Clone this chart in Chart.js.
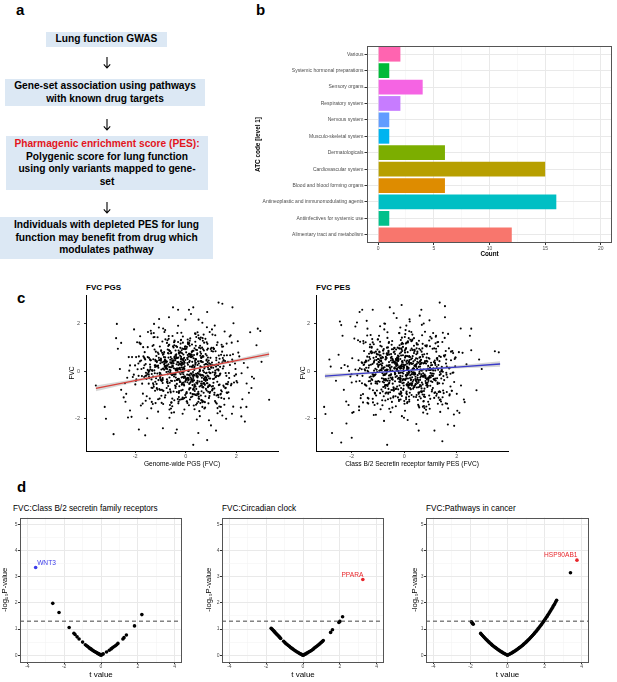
<!DOCTYPE html>
<html>
<head>
<meta charset="utf-8">
<script src="https://cdn.jsdelivr.net/npm/chart.js@4.4.1/dist/chart.umd.min.js"></script>
<style>
  body { margin: 0; background: #fff; width: 617px; height: 682px; position: relative; overflow: hidden;
         font-family: "Liberation Sans", Arial, Helvetica, sans-serif; }
  canvas { position: absolute; }
  .box { position: absolute; background: #dce8f4; font-weight: bold; font-size: 10.2px; line-height: 12.5px;
         text-align: center; display: flex; align-items: center; justify-content: center; color: #000; }
  .arrow { position: absolute; }
  .letter { position: absolute; font-weight: bold; font-size: 15px; line-height: 15px; }
  .ptitle { position: absolute; font-size: 8.2px; line-height: 10px; white-space: nowrap; }
</style>
</head>
<body>

<!-- panel a -->
<div class="letter" style="left:16px;top:2px">a</div>
<div class="box" style="left:46px;top:32px;width:121px;height:15px">Lung function GWAS</div>
<svg class="arrow" width="10" height="12" style="left:102px;top:57px"><path d="M5 0 V11 M1.8 7.3 L5 11 L8.2 7.3" stroke="#000" stroke-width="1.1" fill="none"/></svg>
<div class="box" style="left:5px;top:79px;width:200px;height:27px">Gene-set association using pathways<br>with known drug targets</div>
<svg class="arrow" width="10" height="12" style="left:102px;top:119px"><path d="M5 0 V11 M1.8 7.3 L5 11 L8.2 7.3" stroke="#000" stroke-width="1.1" fill="none"/></svg>
<div class="box" style="left:6px;top:136px;width:202px;height:54px"><span><span style="color:#e3161d">Pharmagenic enrichment score (PES):</span><br>Polygenic score for lung function<br>using only variants mapped to gene-<br>set</span></div>
<svg class="arrow" width="10" height="12" style="left:102px;top:202px"><path d="M5 0 V11 M1.8 7.3 L5 11 L8.2 7.3" stroke="#000" stroke-width="1.1" fill="none"/></svg>
<div class="box" style="left:0px;top:217px;width:213px;height:42px">Individuals with depleted PES for lung<br>function may benefit from drug which<br>modulates pathway</div>

<!-- panel b -->
<div class="letter" style="left:256px;top:2px">b</div>
<canvas id="atc" width="377" height="225" style="left:240px;top:40px"></canvas>

<!-- panel c -->
<div class="letter" style="left:17px;top:290px">c</div>
<div class="ptitle" style="left:86px;top:283px;font-weight:bold;font-size:8px">FVC PGS</div>
<div class="ptitle" style="left:316px;top:283px;font-weight:bold;font-size:8px">FVC PES</div>
<canvas id="pgs" width="242" height="190" style="left:40px;top:282px"></canvas>
<canvas id="pes" width="233" height="190" style="left:282px;top:282px"></canvas>

<!-- panel d -->
<div class="letter" style="left:17px;top:479px">d</div>
<div class="ptitle" style="left:13px;top:504px">FVC:Class B/2 secretin family receptors</div>
<div class="ptitle" style="left:222px;top:504px">FVC:Circadian clock</div>
<div class="ptitle" style="left:426px;top:504px">FVC:Pathways in cancer</div>
<canvas id="volc1" width="190" height="182" style="left:0px;top:500px"></canvas>
<canvas id="volc2" width="190" height="182" style="left:200px;top:500px"></canvas>
<canvas id="volc3" width="200" height="182" style="left:404px;top:500px"></canvas>

<script>
// ---------- panel b: ATC codes ----------
const atcLabels = ["Various", "Systemic hormonal preparations", "Sensory organs", "Respiratory system",
  "Nervous system", "Musculo-skeletal system", "Dermatologicals", "Cardiovascular system",
  "Blood and blood forming organs", "Antineoplastic and immunomodulating agents",
  "Antiinfectives for systemic use", "Alimentary tract and metabolism"];
const atcCounts = [2, 1, 4, 2, 1, 1, 6, 15, 6, 16, 1, 12];
const atcColours = ["#FF64B0", "#00BA38", "#F564E3", "#C77CFF", "#619CFF", "#00B4F0",
  "#7CAE00", "#B79F00", "#DE8C00", "#00BFC4", "#00C08B", "#F8766D"];

// ---------- panel c: FVC vs genome-wide PGS ----------
const pgsX = [
  -0.52,0.31,1.12,-1.45,0.08,-0.27,0.74,-0.91,1.63,-0.05,0.47,-1.18,0.22,-0.66,0.95,-0.39,1.31,-2.04,0.59,-0.14,
  0.36,-0.83,1.78,-0.21,0.65,-1.34,0.12,-0.58,0.88,-1.02,0.27,-0.33,1.45,-0.71,0.03,-1.66,0.51,0.98,-0.44,2.21,
  -0.09,0.69,-1.21,0.41,-0.62,1.07,-0.17,0.83,-1.87,0.19,-0.48,1.22,-0.79,0.55,-0.01,1.58,-1.09,0.33,-0.25,0.77,
  -1.52,0.14,0.92,-0.36,1.39,-0.68,0.06,-1.27,0.63,-0.12,2.04,-0.87,0.44,-0.55,1.16,-0.19,0.29,-1.41,0.81,-0.03,
  0.57,-0.95,1.28,-0.31,0.18,-1.73,0.72,-0.46,1.01,-0.07,0.39,-1.12,1.85,-0.6,0.24,-0.29,0.86,-2.31,0.11,-0.75,
  1.49,-0.15,0.52,-1.06,0.35,-0.41,1.69,-0.85,0.09,-0.23,0.79,-1.58,0.61,-0.1,1.09,-0.53,0.26,-1.95,0.67,0.02,
  -0.37,1.19,-0.73,0.45,-1.29,0.16,-0.02,0.91,-0.64,1.52,-0.2,0.38,-1.01,0.71,-0.43,2.45,-0.12,0.58,-1.47,0.21,
  0.84,-0.57,0.13,-1.16,1.03,-0.34,0.49,-0.81,1.37,-0.06,0.3,-1.38,0.76,-0.26,0.05,-0.97,1.93,-0.49,0.42,-1.79,
  -0.16,0.97,-0.67,0.23,-1.24,1.26,-0.4,0.64,-0.08,1.71,-1.03,0.17,-0.56,0.89,-0.3,0.48,-2.12,1.13,-0.22,0.07,
  0.54,-1.19,0.32,-0.45,1.57,-0.78,0.1,-0.13,0.94,-1.62,0.66,-0.35,1.24,-0.89,0.2,-0.04,0.73,-1.3,1.04,-0.61,
  -0.28,0.43,-0.98,1.41,-0.11,0.6,-1.43,0.28,-0.7,1.88,-0.24,0.8,-0.5,0.15,-1.14,1.0,-0.38,2.62,-0.65,0.37,
  1.1,-0.47,0.04,-1.85,0.7,-0.18,0.5,-0.93,1.34,-0.32,0.25,-1.09,0.87,-0.72,1.62,-0.09,0.4,-0.59,0.13,-1.55,
  -0.82,0.62,-0.26,1.18,-1.36,0.34,-0.04,0.82,-1.68,0.56,-0.42,1.47,-0.14,0.28,-0.96,0.99,-0.53,0.18,-2.55,1.21,
  0.47,-0.3,1.66,-0.63,0.07,-1.23,0.93,-0.19,0.36,-0.84,1.29,-0.07,0.74,-1.5,0.22,-0.38,1.08,-0.76,0.01,2.08,
  -0.44,0.85,-1.11,0.3,-0.16,1.36,-0.89,0.53,-0.01,0.96,-1.32,0.41,-0.62,1.75,-0.27,0.12,-1.04,0.68,-0.35,0.9,
  0.19,-1.64,0.78,-0.52,1.14,-0.08,0.46,-1.2,0.65,-0.28,2.3,-0.69,0.24,-0.12,1.02,-1.46,0.38,-0.55,1.5,-0.02,
  -1.0,0.27,1.23,-0.4,0.58,-1.77,0.09,0.72,-0.66,1.43,-0.23,0.35,-0.92,0.83,-0.06,1.3,-1.26,0.5,-0.46,0.14,
  0.66,-0.21,0.98,-1.39,0.32,-0.74,1.81,-0.1,0.44,-1.07,0.6,-0.33,0.04,-2.2,0.88,-0.57,1.17,-0.16,0.26,-0.8,
  0.12,-0.44,0.63,-0.18,0.37,-0.71,0.05,0.84,-0.29,0.51,-0.96,0.22,-0.07,0.68,-0.53,0.31,-0.14,1.02,-0.39,0.17,
  -0.61,0.43,-0.02,0.79,-0.34,0.14,-0.86,0.57,0.26,-0.48,0.93,-0.2,0.35,-0.75,0.08,1.15,-0.27,0.49,-0.58,0.02,
  0.66,-0.13,0.29,-0.92,0.47,-0.36,1.23,-0.05,0.19,-0.67,0.58,-0.24,0.76,-1.05,0.11,-0.42,0.88,-0.16,0.4,-0.8,
  -0.23,0.71,-0.55,0.06,1.08,-0.31,0.34,-1.14,0.52,-0.09,0.27,-0.63,0.98,-0.45,0.16,-0.19,0.61,-0.88,0.03,1.31,
  0.44,-0.98,0.21,-0.37,0.73,-0.12,0.55,-0.69,0.09,1.36,-0.26,0.41,-0.5,0.85,-0.02,-1.22,0.32,-0.59,0.69,-0.15,
  -0.4,0.18,0.9,-0.64,0.25,-1.31,0.62,-0.08,0.46,-0.29,1.12,-0.78,0.13,-0.17,0.81,-0.46,0.38,-0.94,0.57,0.0,
  0.83,-0.22,0.36,-0.57,0.04,0.95,-0.85,0.28,-0.41,0.67,-0.11,0.5,-1.4,0.2,-0.33,1.27,-0.6,0.15,-0.07,0.74,
  -0.74,0.39,-0.16,0.59,-1.01,0.23,-0.44,0.8,0.07,-0.58,1.44,-0.24,0.45,-0.82,0.3,-0.03,0.64,-1.19,0.18,-0.35,
  0.28,-0.51,1.05,-0.1,0.48,-0.72,0.14,-0.28,0.92,-0.9,0.33,0.01,-0.47,0.7,-0.2,1.18,-0.66,0.42,-1.08,0.09,
  -0.06,0.6,-0.83,0.35,-0.14,0.78,-0.52,1.5,-0.32,0.1,-0.7,0.53,-0.04,0.87,-1.27,0.24,-0.43,0.66,-0.18,0.97,
  0.5,-0.3,0.16,-1.16,0.72,-0.06,0.4,-0.62,1.21,-0.38,0.06,-0.89,0.58,-0.13,0.31,-0.54,1.0,-0.25,0.45,-1.5,
  -0.52,0.94,-0.21,0.19,-0.79,0.63,-0.36,0.11,0.83,-1.03,0.38,-0.15,0.69,-0.46,1.34,-0.09,0.27,-0.68,0.55,-0.27,
  0.07,-0.65,0.47,-0.04,1.13,-0.44,0.24,-0.97,0.6,-0.18,0.86,-0.35,0.15,-1.35,0.42,-0.12,0.75,-0.57,0.21,-0.82,
  1.4,-0.39,0.56,-0.23,0.08,-0.74,0.99,-0.06,0.34,-0.61,0.13,-1.21,0.7,-0.28,0.46,-0.01,-0.92,0.62,-0.4,0.29,
  -0.15,0.52,-1.1,0.77,-0.31,0.2,-0.56,1.07,-0.19,0.39,-0.77,0.03,0.9,-0.48,0.26,-1.0,0.61,-0.11,0.35,-0.64,
  1.42,-1.63,0.35,-0.92,1.87,-1.28,0.71,-2.05,1.15,-0.48,1.68,-1.44,0.16,-1.9,1.33,-0.74,2.12,-1.06,0.58,-1.55,
  -1.17,1.53,-0.61,1.04,-1.72,0.89,-2.23,1.26,-0.35,1.79,-1.38,0.47,-1.01,2.34,-0.83,1.11,-1.59,0.66,-1.96,1.48,
  0.93,-1.49,1.61,-0.27,1.21,-1.83,0.54,-1.12,1.95,-0.67,1.37,-2.14,0.82,-1.31,1.72,-0.56,1.09,-1.67,2.01,-0.95,
  -1.36,0.76,-1.78,1.45,-0.88,1.99,-1.23,0.62,-1.52,1.19,-0.44,1.84,-2.38,0.97,-1.05,1.56,-1.69,0.41,-1.26,1.31,
  1.74,-0.79,1.28,-1.97,0.68,-1.41,1.51,-1.15,0.84,-1.75,2.24,-0.63,1.06,-1.33,1.64,-0.99,0.51,-2.0,1.23,-0.71,
  -0.96,1.36,-1.58,0.79,-1.22,1.71,-0.53,1.17,-1.86,0.92,-1.45,2.06,-0.76,1.4,-1.14,0.6,-1.64,1.83,-0.86,1.02,
  1.13,-1.27,1.91,-0.58,1.47,-1.62,0.73,-2.28,1.29,-0.9,1.6,-1.19,0.88,-1.5,2.41,-0.69,1.2,-1.8,0.64,-1.09,
  -1.54,1.08,-0.81,1.67,-1.35,0.86,-1.92,1.34,-0.64,1.58,-1.25,0.99,-1.7,1.25,-0.93,1.97,-1.42,0.74,-1.11,1.5,
  0.69,-1.81,1.39,-1.02,1.82,-0.77,1.05,-1.46,1.54,-1.2,0.9,-2.09,1.44,-0.85,1.26,-1.57,1.76,-0.98,1.16,-1.34,
  -1.08,1.62,-1.4,0.95,-1.99,1.3,-0.72,1.89,-1.29,1.07,-1.6,0.78,-1.03,1.52,-1.76,1.18,-0.91,2.18,-1.47,0.83,
  -3.55,-3.2,-3.15,-2.85,-2.75,-2.68,-2.55,-2.72,-2.4,-2.35,-2.6,-2.45,-2.2,-2.25,-1.85,-1.6,-0.9,-0.4,0.3,0.5,
  0.85,-0.5,-0.3,0.3,1.3,1.45,1.85,0.85,2.55,2.85,2.95,3.3,2.8,3.0,2.7,2.6,2.4,2.5,2.2,1.6,1.2
];
const pgsY = [
  0.41,-0.73,0.95,-0.22,1.34,-1.08,0.12,-0.49,0.68,-1.61,0.27,0.83,-0.36,1.12,-0.91,0.05,-0.58,1.77,-0.15,0.49,
  -0.97,0.22,1.52,-0.44,0.61,-1.29,0.03,0.76,-0.67,1.05,-0.18,0.39,-1.86,0.92,-0.31,0.14,-1.14,0.57,1.26,-0.08,
  0.71,-0.52,0.18,-1.41,0.86,-0.04,1.63,-0.81,0.33,-0.26,1.01,-1.02,0.45,-0.13,2.18,-0.69,0.24,-0.38,0.8,-1.53,
  -0.11,1.19,-0.62,0.3,-0.95,0.58,-0.29,1.44,-1.22,0.09,-0.47,0.73,-2.03,0.36,-0.06,1.31,-0.77,0.51,-0.33,0.97,
  1.08,-0.41,0.26,-1.17,0.64,-0.2,0.88,-1.73,0.15,-0.55,1.58,-0.09,0.42,-0.84,0.2,-1.35,1.16,-0.27,0.62,-0.7,
  -0.6,0.35,-1.06,1.85,-0.17,0.53,-0.88,0.07,1.22,-0.45,0.31,-1.24,0.74,-0.02,0.99,-1.47,0.19,-0.34,1.4,-0.93,
  0.55,-1.31,0.1,0.9,-0.5,1.29,-0.24,0.46,-1.96,0.67,-0.12,0.28,-0.79,1.55,-0.4,0.16,-1.11,0.82,-0.05,2.42,
  -0.35,0.79,-1.43,0.21,-0.64,1.03,-0.1,0.59,-0.98,0.4,-0.28,1.71,-0.57,0.13,-1.26,0.86,-0.19,0.34,-0.74,1.15,
  0.25,-0.86,1.37,-0.3,0.04,-1.55,0.69,-0.43,0.94,-0.07,0.48,-1.19,0.17,-0.63,1.92,-0.21,0.6,-0.99,0.29,-0.46,
  -1.68,0.44,-0.14,1.1,-0.71,0.23,-0.37,0.96,-1.04,0.54,2.05,-0.53,0.08,-0.82,0.71,-0.25,1.21,-1.38,0.37,-0.03,
  0.88,-0.16,0.5,-1.12,1.47,-0.61,0.02,-0.39,0.77,-1.49,0.32,-0.08,1.06,-0.72,0.43,-2.28,0.65,-0.23,0.18,1.6,
  -0.48,0.13,-0.92,0.63,-0.19,1.33,-1.28,0.38,-0.56,0.06,0.84,-1.7,0.29,-0.42,1.17,-0.12,0.52,-0.89,2.6,-0.32,
  0.19,-1.21,0.74,-0.07,1.6,-0.66,0.36,-0.27,1.02,-1.89,0.11,0.56,-0.49,0.87,-1.03,0.24,-0.15,1.39,-0.78,0.47,
  -0.26,1.24,-0.54,0.07,-1.34,0.92,-0.04,0.41,-0.83,1.66,-0.2,0.31,-1.57,0.6,-0.09,1.07,-0.62,0.15,-1.09,0.79,
  1.3,-0.37,0.22,-0.97,0.53,-0.11,1.81,-1.16,0.48,-0.6,0.02,0.91,-1.42,0.27,-0.31,1.14,-0.75,0.64,-2.45,0.09,
  -0.7,0.58,-0.23,1.49,-0.9,0.12,0.76,-0.44,1.0,-1.27,0.35,-0.01,0.7,-1.79,0.21,-0.52,1.25,-0.14,0.45,-1.0,
  0.34,-0.58,1.11,-0.13,0.66,-1.44,0.28,-0.3,2.28,-0.85,0.1,0.97,-0.36,0.5,-1.13,0.04,-0.65,1.52,-0.22,0.39,
  -1.5,0.81,-0.07,0.47,-0.77,1.2,-0.53,0.16,-1.01,0.73,-0.18,1.62,-0.87,0.25,0.58,-1.32,0.03,0.89,-0.41,1.35,
  -0.35,0.62,0.18,-0.81,0.44,-0.12,1.03,-0.5,0.27,-0.96,0.08,0.71,-0.28,0.39,-1.15,0.55,-0.06,0.86,-0.63,0.2,
  0.49,-0.22,0.93,-0.41,0.13,-0.77,0.6,0.02,-1.06,0.34,-0.3,1.17,-0.55,0.24,0.69,-0.15,-0.88,0.42,-0.09,0.8,
  -0.67,0.31,-0.03,1.26,-0.46,0.58,-0.19,0.1,-0.92,0.75,0.21,-0.38,-1.3,0.47,0.01,-0.6,0.96,-0.26,0.36,-1.01,
  0.15,-0.9,0.53,-0.14,0.84,-0.33,0.06,-0.71,1.4,-0.47,0.63,-0.08,0.29,-1.22,0.44,0.79,-0.52,0.12,-0.35,0.67,
  -0.2,0.45,-1.09,0.72,-0.04,0.37,-0.64,1.07,-0.27,0.19,-0.83,0.5,-0.1,0.91,-0.44,0.26,-1.44,0.6,0.03,-0.56,
  0.88,-0.48,0.22,-0.26,1.13,-0.7,0.4,-0.02,-0.95,0.58,-0.31,0.14,0.74,-1.18,0.31,-0.13,0.52,-0.78,1.35,-0.39,
  -0.06,0.66,-0.58,0.33,-1.27,0.09,0.81,-0.37,0.47,-0.16,1.21,-0.86,0.18,-0.45,0.56,-0.99,0.04,0.73,-0.23,0.28,
  0.41,-1.0,0.16,0.97,-0.28,0.6,-0.12,-0.74,0.35,-0.4,0.83,-0.06,-1.35,0.5,-0.2,1.04,-0.59,0.25,0.63,-0.87,
  -0.44,0.2,-0.79,0.52,-0.07,1.31,-0.53,0.38,-1.12,0.11,0.69,-0.32,0.45,-0.68,0.07,-0.25,0.9,-0.48,0.15,1.16,
  0.57,-0.15,0.34,-0.62,0.76,-1.05,0.23,0.48,-0.36,0.02,-0.89,1.0,-0.21,0.39,-0.57,0.82,-0.1,-1.24,0.61,-0.3,
  -0.93,0.37,-0.18,0.65,-0.49,0.13,1.08,-0.76,0.29,-0.05,0.56,-1.38,0.43,-0.24,0.87,-0.41,0.19,-0.63,0.71,0.06,
  0.24,-0.57,0.99,-0.09,0.42,-0.84,0.1,-0.31,0.67,-1.15,0.35,-0.02,-0.66,1.23,-0.17,0.46,-0.96,0.3,-0.43,0.78,
  -0.29,1.12,-0.4,0.21,-0.72,0.55,-0.11,0.89,-1.02,0.32,-0.5,0.05,0.74,-0.34,1.45,-0.78,0.17,-0.12,0.6,-1.1,
  0.7,-0.26,0.08,-1.2,0.51,-0.45,0.94,-0.6,0.16,0.38,-0.15,-0.82,0.62,0.11,-0.52,1.06,-0.33,0.43,-0.7,0.25,
  -0.55,0.33,0.79,-0.37,-0.03,0.68,-1.31,0.27,0.52,-0.64,0.12,0.95,-0.22,-0.85,0.4,-0.08,0.58,-1.17,0.2,0.86,
  1.12,0.26,-1.6,-0.38,0.72,0.51,-1.27,-0.14,1.93,0.46,-0.45,-0.29,1.08,0.09,-1.48,-0.34,0.63,0.57,-1.34,-0.18,
  -0.29,-1.41,0.17,1.77,-0.52,-0.86,0.03,1.22,-0.36,-0.59,0.47,1.65,-0.23,-2.12,0.44,0.94,-0.19,-1.3,0.6,1.05,
  0.34,1.66,-0.19,-0.91,0.57,1.21,-0.01,-0.77,0.33,1.49,-0.09,-1.92,0.46,1.07,-0.28,-1.75,0.15,0.63,-0.41,-1.33,
  -1.56,-0.27,1.17,0.38,-0.82,-0.13,1.45,0.56,-1.98,-0.24,0.59,0.5,-1.28,-0.08,2.21,0.43,-0.94,-0.1,1.62,0.37,
  1.47,0.12,-1.01,-0.41,1.29,0.29,-0.65,-0.53,1.86,0.1,-1.18,-0.48,1.55,0.05,-0.91,-0.36,2.18,0.25,-1.36,-0.5,
  -0.16,-1.69,0.31,0.73,-0.08,-1.14,0.45,1.52,-0.19,-2.06,0.57,1.27,-0.03,-0.8,0.39,1.43,-0.24,-1.79,0.4,0.99,
  0.26,1.11,-0.47,-1.57,0.12,0.81,-0.36,-1.95,0.09,0.7,-0.53,-1.34,0.16,1.02,-0.51,-0.62,0.2,1.48,-0.27,-1.18,
  -1.05,-0.32,1.74,0.4,-0.69,-0.18,1.23,0.53,-1.61,-0.07,2.0,0.3,-1.36,-0.44,0.78,0.1,-1.15,-0.52,1.44,0.21,
  0.93,0.42,-1.5,-0.15,1.21,0.37,-0.81,-0.13,1.68,0.49,-1.35,-0.24,1.04,0.3,-1.77,-0.06,0.68,0.54,-1.25,-0.11,
  -0.37,-0.89,0.09,1.66,-0.55,-1.09,0.24,2.03,-0.22,-0.74,0.5,1.37,-0.06,-1.16,0.46,0.85,-0.28,-1.53,0.01,1.23,
  -0.6,-1.5,-2.0,-2.65,1.4,0.95,1.2,2.0,-0.5,-0.95,0.1,-1.1,-1.65,0.6,-2.45,-2.7,-2.4,-2.6,-3.1,-2.6,
  -2.9,2.7,2.6,2.7,2.9,2.85,2.7,2.5,1.65,1.8,1.7,-1.2,1.1,0.4,-0.3,-0.7,-1.5,-0.9,-1.9,-2.0,-2.5
];
// fitted line and its confidence band
const pgsFitX = [-3.55, -2, -1, 0, 1, 2, 3.3];
const pgsFitY = [-0.72, -0.39, -0.18, 0.03, 0.24, 0.45, 0.73];
const pgsLow  = [-0.84, -0.46, -0.225, -0.005, 0.195, 0.38, 0.62];
const pgsHigh = [-0.60, -0.32, -0.135, 0.065, 0.285, 0.52, 0.84];

// ---------- panel c: FVC vs class B/2 secretin PES ----------
const pesX = [
  -0.31,0.58,-1.07,0.14,0.92,-0.66,1.38,-0.12,0.44,-1.51,0.27,-0.4,1.11,-0.83,0.06,0.69,-0.22,1.73,-0.95,0.33,
  0.81,-0.18,-1.32,0.5,-0.57,1.24,0.02,-0.74,0.37,-2.01,0.63,-0.09,1.56,-0.46,0.21,-1.19,0.96,-0.27,0.12,-0.88,
  -0.05,1.03,-0.61,0.29,-1.25,0.74,-0.36,1.9,-0.15,0.48,-0.99,0.17,-0.52,1.33,-0.7,0.09,0.87,-1.62,0.4,-0.24,
  0.66,-1.13,0.23,-0.34,1.47,-0.8,0.01,0.55,-1.41,0.97,-0.13,0.31,-0.69,2.16,-0.28,0.13,-1.05,0.78,-0.48,1.2,
  -0.9,0.36,1.62,-0.2,0.07,-1.72,0.85,-0.58,0.25,-0.03,1.08,-1.28,0.52,-0.39,0.19,-0.77,1.42,-0.11,0.61,-2.27,
  0.43,-0.64,0.16,1.29,-1.03,0.71,-0.25,0.04,-0.86,1.81,-0.44,0.34,-1.36,0.59,-0.17,0.98,-0.6,0.22,1.17,-1.16,
  -0.42,0.9,-0.08,0.47,-1.55,0.28,-0.73,1.51,-0.29,0.11,2.37,-0.96,0.64,-0.14,0.35,-1.21,0.79,-0.51,0.08,1.35,
  0.2,-1.45,0.73,-0.37,1.02,-0.07,0.56,-0.92,0.3,-0.21,1.67,-0.62,0.12,-1.83,0.82,-0.33,0.45,-0.01,1.26,-0.78,
  -1.1,0.39,-0.19,0.86,-0.5,1.14,-1.37,0.18,-0.04,0.7,-0.85,1.45,-0.26,0.51,-1.6,0.26,-0.35,2.0,-0.67,0.06,
  0.95,-0.3,0.42,-1.22,0.15,-0.55,1.31,-0.1,0.61,-0.98,0.03,0.84,-1.47,0.38,-0.23,1.06,-0.72,0.5,-0.06,-2.4,
  0.32,-0.82,1.19,-0.16,0.68,-1.14,0.24,-0.45,1.58,-0.6,0.1,-1.31,0.77,-0.02,0.46,-0.93,1.87,-0.37,0.21,-1.76,
  -0.13,0.62,-1.02,0.35,-0.28,1.39,-0.68,0.05,0.89,-1.53,0.28,-0.43,1.12,-0.11,0.54,-2.1,0.76,-0.32,0.17,1.64,
  -0.59,0.13,1.0,-0.87,0.41,-0.09,1.21,-1.18,0.6,-0.35,0.02,-1.66,0.91,-0.24,0.49,-0.76,1.48,-0.01,0.3,-1.08,
  0.72,-0.4,0.19,-1.34,1.76,-0.53,0.37,-0.14,0.83,-1.0,0.11,2.55,-0.71,0.44,-0.19,1.27,-1.49,0.58,-0.05,0.93,
  -0.23,0.53,-0.94,1.36,-0.12,0.27,-1.27,0.67,-0.47,1.95,-0.31,0.09,-0.8,1.15,-0.56,0.36,-1.9,0.75,0.0,-0.63,
  1.05,-0.27,0.48,-1.09,0.14,-0.62,1.53,-0.18,0.29,-1.4,0.8,-0.08,0.57,-0.91,2.22,-0.44,0.1,-1.24,0.65,-0.15,
  -0.75,0.24,-0.38,1.09,-1.57,0.45,-0.02,0.99,-0.64,0.2,-1.12,1.71,-0.29,0.55,-0.84,0.07,1.3,-0.48,0.39,-1.98,
  0.6,-1.2,0.11,0.88,-0.33,1.43,-0.79,0.26,-0.54,0.04,1.18,-1.03,0.47,-0.2,0.74,-1.44,0.31,-0.66,1.6,-0.12,
  0.05,-0.62,0.38,-0.15,0.79,-0.41,0.17,-0.93,0.54,-0.26,1.06,-0.08,0.3,-0.71,0.12,-0.48,0.66,-0.19,0.91,-1.12,
  -0.35,0.46,-0.02,0.73,-0.84,0.22,-0.53,1.18,-0.11,0.36,-0.67,0.58,-0.24,0.09,-1.0,0.81,-0.38,0.15,0.49,-0.6,
  0.62,-0.17,0.27,-1.25,0.41,-0.06,0.94,-0.46,0.11,-0.79,0.33,-0.3,1.29,-0.55,0.2,-0.14,0.7,-0.98,0.03,0.51,
  -0.72,0.14,0.85,-0.33,0.06,-0.58,0.48,-0.2,1.37,-0.88,0.28,-0.04,0.61,-0.42,0.18,-1.17,0.77,-0.27,0.39,-0.09,
  0.31,-1.04,0.55,-0.13,0.69,-0.37,0.0,0.96,-0.5,0.24,-0.77,0.43,-0.18,1.1,-0.62,0.08,-0.31,0.64,-1.33,0.19,
  -0.21,0.72,-0.46,0.16,-0.95,0.5,-0.07,0.29,-0.66,1.22,-0.28,0.37,-1.09,0.03,0.82,-0.4,0.57,-0.15,0.1,-0.83,
  0.44,-0.29,1.0,-0.61,0.21,-0.12,0.67,-1.4,0.35,-0.45,0.13,0.9,-0.23,0.52,-0.75,0.26,-0.03,1.43,-0.51,0.07,
  -0.97,0.32,-0.1,0.58,-0.43,0.85,-0.24,0.11,-0.69,0.4,-1.21,0.19,0.75,-0.34,0.04,-0.57,1.05,-0.16,0.47,-0.8,
  0.23,-0.47,0.64,-0.03,-0.86,0.45,-0.32,1.15,-0.13,0.3,-0.6,0.08,0.97,-1.03,0.37,-0.22,0.55,-0.7,0.14,-0.38,
  0.78,-0.14,0.2,-0.76,0.5,-1.3,0.1,-0.41,0.86,-0.08,0.33,-0.54,1.26,-0.27,0.02,-0.92,0.6,-0.18,0.41,-0.65,
  -0.44,1.02,-0.25,0.34,-0.58,0.06,-1.07,0.71,-0.15,0.47,-0.35,0.93,-0.73,0.17,-0.02,0.63,-0.5,1.34,-0.29,0.25,
  0.12,-0.81,0.42,-0.19,1.16,-0.63,0.28,-0.05,0.74,-1.16,0.19,-0.4,0.57,-0.12,0.88,-0.46,0.07,-0.99,0.35,-0.23,
  -0.6,0.39,-0.09,0.99,-0.36,0.14,-0.82,0.6,-0.21,0.04,1.47,-0.52,0.26,-0.7,0.45,-0.17,0.82,-1.24,0.13,-0.31,
  0.54,-0.24,0.08,-0.9,0.67,-0.45,0.32,1.09,-0.6,0.17,-0.13,0.43,-1.36,0.76,-0.06,0.22,-0.48,0.96,-0.2,0.01,
  -0.11,0.59,-0.67,0.26,-0.04,1.24,-0.39,0.11,-0.91,0.51,-0.28,0.72,-0.08,0.18,-1.15,0.38,-0.55,0.84,-0.17,0.46,
  -1.21,1.45,-0.58,0.97,-1.74,1.22,-0.36,1.63,-1.48,0.74,-2.05,1.31,-0.87,1.86,-1.09,0.55,-1.6,1.08,-0.69,2.27,
  1.02,-1.37,1.7,-0.81,1.27,-1.93,0.62,-1.16,1.52,-0.49,1.94,-1.28,0.85,-1.65,1.18,-0.73,1.41,-2.21,0.93,-1.02,
  -1.56,0.83,-1.11,1.39,-0.64,1.78,-1.32,1.01,-1.86,0.58,-1.2,1.6,-0.95,1.13,-2.12,0.76,-1.43,1.92,-0.78,1.25,
  1.58,-0.94,1.14,-1.51,0.72,-1.25,2.08,-0.67,1.35,-1.79,0.96,-1.06,1.72,-0.52,1.21,-1.4,0.66,-1.7,1.47,-0.86,
  -0.99,1.67,-1.46,0.69,-1.15,1.29,-0.71,2.15,-1.27,0.87,-1.62,1.04,-0.8,1.55,-1.98,0.98,-1.34,0.79,-1.05,1.83,
  0.81,-1.72,1.33,-0.61,1.61,-1.08,0.92,-1.39,1.84,-0.9,1.12,-2.3,0.7,-1.19,1.49,-0.77,1.07,-1.57,1.76,-1.13,
  -1.3,1.17,-0.76,1.73,-1.53,0.64,-1.01,1.42,-1.8,1.06,-0.66,1.95,-1.41,0.9,-1.14,1.34,-1.68,0.6,-0.92,1.59,
  1.24,-1.18,0.77,-2.0,1.46,-0.83,1.89,-1.22,0.68,-1.5,1.28,-0.72,1.66,-1.35,0.99,-1.03,2.02,-0.85,1.15,-1.61,
  -1.44,0.91,-1.69,1.2,-0.7,1.5,-1.17,0.8,-1.59,1.37,-0.89,1.78,-1.26,0.63,-1.86,1.1,-0.74,1.62,-1.36,0.95,
  0.75,-1.55,1.54,-1.04,0.88,-1.74,1.19,-0.79,1.81,-1.3,0.67,-1.12,1.4,-0.96,1.7,-1.47,0.84,-2.15,1.26,-0.68,
  -3.05,-3.0,-2.75,-2.4,-2.85,-2.8,-2.6,-2.45,-2.4,-2.35,-2.5,-2.2,-2.0,-1.7,-1.2,-0.55,-0.1,0.65,1.35,1.55,
  2.55,2.5,3.45,3.6,2.85,2.3,2.1,1.45,0.55,-0.65,1.9,2.95,2.75,-0.4,0.2
];
const pesY = [
  0.22,-0.88,0.61,1.27,-0.35,0.04,-1.19,0.8,-0.54,0.37,1.66,-0.71,0.13,-1.43,0.95,-0.2,0.48,-0.97,0.28,-0.06,
  -0.41,1.1,-0.25,0.53,-1.58,0.18,0.87,-0.63,1.4,-0.12,0.34,-1.04,0.69,-0.3,2.1,-0.8,0.07,0.58,-1.3,0.42,
  1.03,-0.17,-0.94,0.31,0.76,-1.25,0.12,-0.45,1.85,-0.68,0.25,-0.02,-1.72,0.65,-0.33,1.21,-0.56,0.09,0.9,-1.1,
  -0.72,0.47,1.33,-0.09,-0.51,0.88,-1.37,0.19,0.62,-0.27,-0.85,1.55,0.03,-0.6,0.35,-2.05,0.74,-0.14,1.12,-0.39,
  0.56,-1.07,0.2,0.97,-0.31,-1.64,0.44,1.24,-0.76,0.1,-0.19,0.82,-1.21,0.38,1.69,-0.47,0.0,-0.9,0.6,0.27,
  -0.23,1.41,-0.62,0.07,0.71,-1.49,0.26,-0.36,1.05,-0.82,0.51,-0.04,-1.15,2.35,-0.44,0.16,0.85,-0.7,0.33,-1.84,
  0.93,-0.29,0.4,-1.0,1.18,-0.12,-0.58,0.67,0.05,-1.34,0.3,1.5,-0.84,0.21,-0.37,0.79,-1.08,0.46,1.93,-0.15,
  -0.53,0.15,-1.27,0.84,0.36,-0.21,1.29,-0.92,0.55,-0.06,-1.56,0.7,0.18,-0.43,1.07,-0.74,0.29,-1.96,0.49,0.94,
  0.11,-0.66,1.61,-0.33,0.73,-1.12,-0.02,0.42,-0.79,1.16,0.24,-1.4,0.58,-0.16,2.6,-0.5,0.32,-0.95,0.08,0.66,
  -1.02,0.5,-0.12,1.36,-0.46,0.17,-0.87,0.92,-0.26,0.39,-1.66,0.03,1.23,-0.61,0.55,-0.09,-1.23,0.77,-0.38,0.14,
  0.64,-0.44,0.27,-0.98,1.52,-0.18,0.35,-1.53,0.86,-0.3,0.1,1.02,-0.73,0.2,-2.22,0.47,-0.05,0.98,-0.58,1.31,
  -0.3,0.9,-1.36,0.13,-0.2,0.61,-0.89,1.74,-0.48,0.29,-1.0,0.45,-0.1,1.15,-0.67,0.02,0.72,-1.47,0.37,-0.25,
  1.2,-0.55,0.06,-0.77,0.48,-1.89,0.95,-0.14,0.3,-0.42,1.45,-1.13,0.23,0.67,-0.34,2.02,-0.81,0.15,-0.52,0.83,
  -0.08,0.38,-1.2,0.74,-0.64,0.12,1.08,-0.37,-1.62,0.52,-0.15,0.89,-0.93,0.26,1.62,-0.47,0.04,-1.06,0.68,-0.28,
  0.45,-1.41,0.81,-0.03,-0.7,1.27,-0.22,0.36,-1.29,0.58,0.92,-0.57,0.16,-2.5,0.71,-0.11,1.38,-0.83,0.25,-0.4,
  -0.85,0.28,1.13,-0.5,0.09,-1.18,0.63,0.2,-0.6,1.8,-0.24,0.43,-1.52,0.05,0.78,-0.35,-0.97,1.0,-0.13,0.52,
  0.17,-0.74,0.99,-0.19,-1.31,0.55,0.01,1.46,-0.62,0.34,-0.9,0.12,2.25,-0.45,0.6,-1.09,0.27,-0.32,0.85,-1.75,
  -0.36,1.22,-0.07,0.41,-1.05,0.19,0.75,-0.53,-0.16,1.57,-0.88,0.31,0.97,-1.25,0.08,-0.61,1.34,-0.02,0.5,-0.94,
  0.28,-0.56,0.91,-0.19,0.43,-1.05,0.14,0.66,-0.37,0.02,-0.78,1.2,-0.25,0.5,-0.61,0.19,0.83,-0.44,0.07,-0.91,
  -0.13,0.72,-0.48,0.33,-1.22,0.6,0.05,-0.3,0.97,-0.67,0.24,-0.09,0.54,-0.85,1.35,-0.2,0.41,-0.57,0.12,0.78,
  0.46,-0.34,-0.02,0.85,-0.6,0.21,-1.4,0.37,0.64,-0.16,0.1,-0.73,1.06,-0.4,0.29,-0.06,-0.98,0.52,0.79,-0.27,
  -0.7,0.15,0.58,-0.24,1.17,-0.51,0.32,-0.08,-0.87,0.44,0.96,-0.33,0.06,-1.1,0.62,-0.18,0.37,-0.64,0.23,1.42,
  0.09,-0.81,0.36,-0.45,0.7,0.16,-1.25,0.53,-0.14,0.89,-0.37,0.27,-0.6,0.04,1.01,-0.92,0.45,-0.21,0.6,-0.04,
  0.63,-0.22,1.28,-0.69,0.02,0.4,-0.5,-0.12,0.76,-1.03,0.31,0.11,-0.43,0.58,-0.29,-0.82,0.95,0.18,-0.55,0.34,
  -0.38,0.5,-0.07,0.22,-0.9,0.67,0.03,-1.33,0.42,-0.26,0.81,-0.61,0.17,1.13,-0.15,0.35,-0.74,0.06,0.57,-1.17,
  0.71,-0.44,0.13,-0.02,-0.79,1.05,-0.31,0.46,-0.58,0.24,-0.11,0.64,-1.46,0.38,0.92,-0.48,0.08,-0.27,1.19,-0.66,
  -0.17,0.93,-0.62,0.29,0.05,-1.08,0.52,-0.36,0.18,1.3,-0.74,0.4,-0.2,-0.52,0.77,0.01,-0.95,0.61,-0.3,0.12,
  0.35,-1.19,0.48,-0.13,0.84,-0.41,0.2,-0.67,1.1,-0.05,0.33,-0.88,0.56,0.09,-0.34,1.25,-0.58,0.14,-0.08,0.69,
  -0.52,0.26,1.0,-0.73,0.39,-0.16,-1.02,0.62,0.11,-0.45,0.73,-0.25,0.04,1.4,-0.6,0.31,-0.12,-0.84,0.5,-0.37,
  0.16,0.58,-0.32,-0.94,0.45,0.07,-0.56,1.16,-0.2,0.36,-1.27,0.8,-0.09,0.24,-0.66,0.53,0.98,-0.41,0.13,-0.76,
  0.87,-0.05,0.3,-0.61,0.14,1.22,-0.85,0.42,-0.27,0.63,-0.02,-1.14,0.51,-0.38,0.19,0.75,-0.49,1.04,-0.15,0.28,
  -0.89,0.44,-0.23,0.68,-0.47,0.02,0.9,-0.7,0.25,-0.1,1.32,-0.54,0.15,-0.99,0.38,-0.28,0.61,0.06,-1.2,0.47,
  0.2,-0.65,0.74,-0.34,-0.09,0.55,-0.79,0.33,1.08,-0.5,0.12,-0.23,0.86,-1.06,0.41,-0.14,0.27,-0.59,0.96,-0.42,
  0.31,1.24,-0.18,-1.58,0.47,0.83,-0.06,-1.37,0.39,2.02,-0.22,-1.11,0.54,0.77,-0.12,-1.46,0.35,0.95,-0.58,-1.19,
  -0.42,-1.36,0.15,0.88,-0.53,-1.72,0.08,1.14,-0.37,-0.79,0.21,1.53,-0.49,-1.01,0.04,2.01,-0.3,-1.27,0.56,0.92,
  1.28,0.33,-0.94,-0.11,1.65,0.47,-0.73,-0.25,1.89,0.58,-1.16,-0.06,0.83,0.39,-1.42,-0.17,2.13,0.52,-1.05,-0.29,
  -1.35,-0.44,0.97,0.09,-1.74,-0.32,0.81,0.56,-1.21,-0.17,2.15,0.48,-1.02,-0.26,1.5,0.02,-0.88,-0.41,1.63,0.13,
  0.19,1.58,0.45,0.97,0.03,1.24,0.51,1.81,0.28,0.74,0.38,1.39,0.11,2.28,0.55,1.06,0.25,1.67,0.07,0.86,
  -0.27,-1.49,-0.5,-0.89,-0.14,-1.83,-0.41,-1.12,-0.06,-1.6,-0.33,-0.78,-0.55,-1.31,-0.2,-2.09,-0.45,-0.96,-0.1,-1.42,
  1.13,0.36,1.77,0.15,0.86,0.49,1.34,0.04,2.06,0.27,1.0,0.58,1.51,0.12,0.79,0.43,1.25,0.2,1.9,0.33,
  -0.95,-0.22,-1.55,-0.47,-1.09,-0.08,-1.82,-0.36,-0.84,-0.55,-1.37,-0.13,-2.24,-0.42,-1.16,-0.03,-1.66,-0.29,-0.91,-0.5,
  0.42,-1.28,0.13,1.46,-0.38,-0.92,0.57,1.09,-0.19,-1.71,0.3,0.83,-0.52,-1.14,0.08,1.62,-0.34,-0.87,0.46,1.3,
  -1.06,0.27,1.41,-0.44,-1.79,0.05,1.18,-0.31,-0.82,0.52,1.96,-0.16,-1.27,0.38,0.97,-0.58,-1.48,0.21,1.23,-0.09,
  -1.5,-1.8,-2.6,-3.0,0.5,0.2,-0.4,2.1,1.95,1.5,0.7,-2.2,-2.8,2.5,2.6,2.7,2.8,2.6,2.9,2.75,
  1.8,1.5,0.85,0.8,0.5,-1.3,-1.75,-2.95,-2.5,-3.1,-2.3,0.1,-0.8,2.45,2.2
];
const pesFitX = [-3.02, -2, -1, 0, 1, 2, 3.65];
const pesFitY = [-0.2, -0.12, -0.045, 0.03, 0.11, 0.18, 0.31];
const pesLow  = [-0.30, -0.185, -0.085, 0.0, 0.07, 0.115, 0.19];
const pesHigh = [-0.10, -0.055, -0.005, 0.06, 0.15, 0.245, 0.43];

// ---------- panel d: gene-level t value vs -log10 P ----------
const secretinT = [-2.62,-2.28,-1.73,-1.47,-1.41,-1.3,-1.19,-1.0,-0.85,-0.78,-0.72,-0.66,-0.6,-0.55,-0.5,
  -0.45,-0.4,-0.35,-0.3,-0.25,-0.2,-0.16,-0.12,-0.08,-0.04,0.0,0.05,0.12,0.3,0.45,0.55,0.62,0.7,0.78,0.85,
  0.92,1.19,1.25,1.38,1.82,2.22];
const secretinP = [1.98,1.63,1.06,0.84,0.79,0.7,0.62,0.5,0.4,0.36,0.33,0.29,0.26,0.24,0.21,
  0.19,0.16,0.14,0.12,0.1,0.08,0.06,0.05,0.03,0.02,0.0,0.02,0.05,0.12,0.19,0.24,0.28,0.32,0.36,0.4,
  0.45,0.62,0.67,0.77,1.12,1.55];

const clockT = [-1.73,-1.69,-1.65,-1.61,-1.57,-1.53,-1.49,-1.45,-1.41,-1.37,-1.33,-1.29,-1.25,-1.21,-1.05,
  -0.98,-0.92,-0.86,-0.8,-0.74,-0.68,-0.62,-0.56,-0.5,-0.44,-0.38,-0.32,-0.26,-0.2,-0.14,-0.08,-0.03,0,0.04,0.09,
  0.15,0.21,0.27,0.33,0.39,0.45,0.51,0.57,0.63,0.69,0.75,0.81,0.87,0.93,1.0,1.05,1.1,1.5,1.6,1.95,2.0,2.15];
const clockP = [1.03,1.0,0.97,0.94,0.91,0.88,0.85,0.82,0.79,0.76,0.73,0.7,0.67,0.64,0.53,
  0.48,0.44,0.41,0.37,0.34,0.3,0.27,0.24,0.21,0.18,0.15,0.12,0.1,0.07,0.05,0.03,0.01,0,0.01,0.03,
  0.05,0.08,0.1,0.13,0.15,0.18,0.21,0.24,0.28,0.31,0.34,0.38,0.41,0.45,0.49,0.52,0.56,0.87,0.97,1.25,1.29,1.47];

const cancerT = [-1.95,-1.92,-1.88,-1.85,
  -1.45,-1.4,-1.35,-1.3,-1.25,-1.2,-1.15,-1.1,-1.05,-1.0,-0.95,-0.9,-0.85,-0.8,-0.75,-0.7,-0.65,-0.6,-0.55,-0.5,
  -0.45,-0.4,-0.35,-0.3,-0.25,-0.2,-0.15,-0.1,-0.05,0,
  0.05,0.1,0.15,0.2,0.25,0.3,0.35,0.4,0.45,0.5,0.55,0.6,0.65,0.7,0.75,0.8,0.85,0.9,0.95,1.0,
  1.05,1.1,1.15,1.2,1.25,1.3,1.35,1.4,1.45,1.5,1.55,1.6,1.65,1.7,1.75,1.8,1.85,1.9,1.95,2.0,
  2.05,2.1,2.15,2.2,2.25,2.3,2.35,2.4,2.45,2.5,2.55,2.6,2.65,3.4];
const cancerP = [1.28,1.25,1.21,1.18,
  0.832,0.792,0.752,0.713,0.675,0.638,0.602,0.567,0.532,0.499,0.466,0.434,0.403,0.373,0.344,0.315,0.288,0.261,0.235,0.21,
  0.185,0.162,0.139,0.117,0.095,0.075,0.054,0.036,0.017,0,
  0.017,0.036,0.054,0.075,0.095,0.117,0.139,0.162,0.185,0.21,0.235,0.261,0.288,0.315,0.344,0.373,0.403,0.434,0.466,0.499,
  0.532,0.567,0.602,0.638,0.675,0.713,0.752,0.792,0.832,0.874,0.916,0.96,1.004,1.05,1.096,1.143,1.191,1.241,1.291,1.342,
  1.394,1.447,1.501,1.556,1.612,1.669,1.726,1.785,1.845,1.906,1.968,2.031,2.095,3.15];

// highlighted genes, one per panel
const hitGene = ["WNT3", "PPARA", "HSP90AB1"];
const hitT = [-3.55, 3.25, 3.75];
const hitP = [3.35, 2.89, 3.63];
const hitColour = ["#3b3bea", "#e8262b", "#e8262b"];
const sigLine = 1.3;   // -log10(0.05)

// ---------- shared bits ----------
Chart.defaults.font.family = '"Liberation Sans", Arial, Helvetica, sans-serif';
Chart.defaults.color = '#4d4d4d';
Chart.defaults.animation = false;
Chart.defaults.events = [];
Chart.defaults.plugins.legend.display = false;
Chart.defaults.plugins.tooltip.enabled = false;

const gridMajor = '#e9e9e9', gridMinor = '#f3f3f3';
function onStep(v, step) {
  return Math.abs(v / step - Math.round(v / step)) < 1e-6;
}
function toPoints(xs, ys) {
  return xs.map((x, i) => ({ x: x, y: ys[i] }));
}

// box around the plot area (ggplot panel.border)
const frame = {
  id: 'frame',
  afterDraw(chart) {
    const a = chart.chartArea, c = chart.ctx;
    c.save();
    c.strokeStyle = '#555';
    c.lineWidth = 1;
    c.strokeRect(Math.round(a.left) + 0.5, Math.round(a.top) + 0.5,
      Math.round(a.right - a.left) - 1, Math.round(a.bottom - a.top) - 1);
    c.restore();
  }
};

function geneLabel(i, align) {
  return {
    id: 'geneLabel',
    afterDatasetsDraw(chart) {
      const c = chart.ctx;
      const px = chart.scales.x.getPixelForValue(hitT[i]);
      const py = chart.scales.y.getPixelForValue(hitP[i]);
      c.save();
      c.font = '6.6px "Liberation Sans", Arial, sans-serif';
      c.fillStyle = hitColour[i];
      c.textAlign = align;
      c.textBaseline = 'middle';
      c.fillText(hitGene[i], align === 'left' ? px + 1.5 : px + 0.5, py - 4.8);
      c.restore();
    }
  };
}

// ---------- panel b ----------
new Chart(document.getElementById('atc'), {
  type: 'bar',
  data: {
    labels: atcLabels,
    datasets: [{ data: atcCounts, backgroundColor: atcColours, borderWidth: 0,
                 barPercentage: 0.9, categoryPercentage: 1 }]
  },
  options: {
    indexAxis: 'y',
    responsive: false,
    layout: { padding: { left: 0, right: 5, top: 6, bottom: 0 } },
    scales: {
      x: {
        type: 'linear', min: -1, max: 21,
        afterFit: s => { s.height = 22; },
        ticks: { stepSize: 2.5, includeBounds: false, autoSkip: false, maxRotation: 0, padding: 0.5,
                 font: { size: 5 }, color: '#4d4d4d',
                 callback: v => onStep(v, 5) ? String(v) : '' },
        grid: {
          color: ctx => ctx.tick && onStep(ctx.tick.value, 5) ? gridMajor : gridMinor,
          lineWidth: ctx => ctx.tick && onStep(ctx.tick.value, 5) ? 1 : 0.6,
          tickLength: 2,
          tickColor: ctx => ctx.tick && onStep(ctx.tick.value, 5) ? '#333' : 'rgba(0,0,0,0)'
        },
        border: { display: false },
        title: { display: true, text: 'Count', color: '#000', font: { size: 6.3, weight: 'bold' },
                 padding: { top: 0, bottom: 6.5 } }
      },
      y: {
        afterFit: s => { s.width = 127; },
        ticks: { autoSkip: false, padding: 1, font: { size: 5 }, color: '#4d4d4d' },
        grid: { offset: false, color: gridMajor, tickLength: 2.5, tickColor: '#333' },
        border: { display: false },
        title: { display: true, text: 'ATC code [level 1]', color: '#000', font: { size: 6.4, weight: 'bold' },
                 padding: { top: 14, bottom: 0 } }
      }
    }
  },
  plugins: [frame]
});

// ---------- panel c ----------
function scatterPanel(id, xs, ys, fitX, fitY, low, high, lineColour, xMin, xMax, yAxisWidth, padRight, yTitlePad, xTitle) {
  new Chart(document.getElementById(id), {
    type: 'scatter',
    data: {
      datasets: [
        { type: 'line', data: toPoints(fitX, fitY), borderColor: lineColour, borderWidth: 1.3,
          pointRadius: 0, fill: false },
        { type: 'line', data: toPoints(fitX, low), borderWidth: 0, pointRadius: 0, fill: false },
        { type: 'line', data: toPoints(fitX, high), borderWidth: 0, pointRadius: 0,
          fill: '-1', backgroundColor: 'rgba(150,150,150,0.38)' },
        { data: toPoints(xs, ys), pointRadius: 1.05, pointBorderWidth: 0,
          backgroundColor: '#000', borderColor: '#000' }
      ]
    },
    options: {
      responsive: false,
      layout: { padding: { left: 0, right: padRight, top: 13, bottom: 0 } },
      scales: {
        x: {
          type: 'linear', min: xMin, max: xMax,
          afterFit: s => { s.height = 21; },
          ticks: { stepSize: 2, includeBounds: false, maxRotation: 0, padding: 0.5,
                   font: { size: 5.5 }, color: '#4d4d4d' },
          grid: { drawOnChartArea: false, tickLength: 2, tickColor: '#333' },
          border: { display: true, color: '#000', width: 1 },
          title: { display: true, text: xTitle, color: '#000', font: { size: 6.6 },
                   padding: { top: 0, bottom: 4 } }
        },
        y: {
          type: 'linear', min: -3.36, max: 3.22,
          afterFit: s => { s.width = yAxisWidth; },
          ticks: { stepSize: 2, includeBounds: false, padding: 4, font: { size: 5.5 }, color: '#4d4d4d' },
          grid: { drawOnChartArea: false, tickLength: 2, tickColor: '#333' },
          border: { display: true, color: '#000', width: 1 },
          title: { display: true, text: 'FVC', color: '#000', font: { size: 6.6 },
                   padding: { top: yTitlePad, bottom: 0 } }
        }
      }
    }
  });
}
scatterPanel('pgs', pgsX, pgsY, pgsFitX, pgsFitY, pgsLow, pgsHigh, '#d8403a',
  -3.94, 3.65, 46, 4, 28, 'Genome-wide PGS (FVC)');
scatterPanel('pes', pesX, pesY, pesFitX, pesFitY, pesLow, pesHigh, '#3a3ac8',
  -3.36, 3.95, 34, 7, 17, 'Class B/2 Secretin receptor family PES (FVC)');

// ---------- panel d ----------
const tMin = -4.4, tMax = 4.4;
function volcano(id, ts, ps, hit, align, yAxisWidth, padRight, yTitlePad) {
  new Chart(document.getElementById(id), {
    type: 'scatter',
    data: {
      datasets: [
        { data: [{ x: hitT[hit], y: hitP[hit] }], pointRadius: 1.8, pointBorderWidth: 0,
          backgroundColor: hitColour[hit] },
        { type: 'line', data: [{ x: tMin, y: sigLine }, { x: tMax, y: sigLine }],
          borderColor: '#444', borderWidth: 1, borderDash: [4, 3], pointRadius: 0, fill: false },
        { data: toPoints(ts, ps), pointRadius: 1.8, pointBorderWidth: 0, backgroundColor: '#000' }
      ]
    },
    options: {
      responsive: false,
      layout: { padding: { left: 0, right: padRight, top: 17.5, bottom: 0 } },
      scales: {
        x: {
          type: 'linear', min: tMin, max: tMax,
          afterFit: s => { s.height = 20; },
          ticks: { stepSize: 1, includeBounds: false, autoSkip: false, maxRotation: 0, padding: 0,
                   font: { size: 5 }, color: '#4d4d4d',
                   callback: v => onStep(v, 2) ? String(v) : '' },
          grid: {
            color: ctx => ctx.tick && onStep(ctx.tick.value, 2) ? gridMajor : gridMinor,
            lineWidth: ctx => ctx.tick && onStep(ctx.tick.value, 2) ? 1 : 0.6,
            tickLength: 2,
            tickColor: ctx => ctx.tick && onStep(ctx.tick.value, 2) ? '#333' : 'rgba(0,0,0,0)'
          },
          border: { display: false },
          title: { display: true, text: 't value', color: '#000', font: { size: 8 },
                   padding: { top: 0, bottom: 2.5 } }
        },
        y: {
          type: 'linear', min: -0.26, max: 5.26,
          afterFit: s => { s.width = yAxisWidth; },
          ticks: { stepSize: 0.5, includeBounds: false, autoSkip: false, padding: 0.5,
                   font: { size: 5 }, color: '#4d4d4d',
                   callback: v => onStep(v, 1) ? String(v) : '' },
          grid: {
            color: ctx => ctx.tick && onStep(ctx.tick.value, 1) ? gridMajor : gridMinor,
            lineWidth: ctx => ctx.tick && onStep(ctx.tick.value, 1) ? 1 : 0.6,
            tickLength: 2,
            tickColor: ctx => ctx.tick && onStep(ctx.tick.value, 1) ? '#333' : 'rgba(0,0,0,0)'
          },
          border: { display: false },
          title: { display: true, text: '-log\u2081\u2080P-value', color: '#000', font: { size: 7.6 },
                   padding: { top: yTitlePad, bottom: 0 } }
        }
      }
    },
    plugins: [frame, geneLabel(hit, align)]
  });
}
volcano('volc1', secretinT, secretinP, 0, 'left', 20, 8, 0);
volcano('volc2', clockT, clockP, 1, 'right', 22, 6, 4.2);
volcano('volc3', cancerT, cancerP, 2, 'right', 22, 15, 6.2);
</script>
</body>
</html>
